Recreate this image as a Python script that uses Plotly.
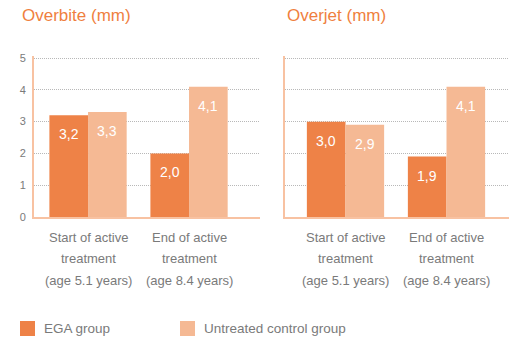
import plotly.graph_objects as go

category_lines = [["Start of active", "treatment", "(age 5.1 years)"], ["End of active", "treatment", "(age 8.4 years)"]]
panel_titles = ["Overbite (mm)", "Overjet (mm)"]
series_names = ["EGA group", "Untreated control group"]
overbite_ega = [3.2, 2.0]
overbite_control = [3.3, 4.1]
overjet_ega = [3.0, 1.9]
overjet_control = [2.9, 4.1]
y_ticks = [0, 1, 2, 3, 4, 5]

C_EGA = "#EE8247"
C_CTRL = "#F5B994"
AXIS_C = "#F8C2A2"
GRAY = "#7a7a7a"
FONT = "Liberation Sans"

W, H = 514, 358
bargap = 0.235
fig = go.Figure()

panels = [
    (overbite_ega, overbite_control, "x", "y", [34, 260], -0.535),
    (overjet_ega, overjet_control, "x2", "y2", [285, 509], -0.599),
]
xpos = list(range(len(category_lines)))
bw = (1 - bargap) / 2
ann = []
for (ega, ctrl, xa, ya, px, x0) in panels:
    for vals, color, name, off in [(ega, C_EGA, series_names[0], -bw / 2), (ctrl, C_CTRL, series_names[1], bw / 2)]:
        fig.add_trace(go.Bar(x=xpos, y=vals, marker=dict(color=color, line=dict(width=0)),
                             name=name, xaxis=xa, yaxis=ya, showlegend=False, hoverinfo="skip"))
        for xi, v in zip(xpos, vals):
            ann.append(dict(x=xi + off, y=v, xref=xa, yref=ya, text=f"{v:.1f}".replace(".", ","),
                            showarrow=False, yanchor="middle", yshift=-19,
                            font=dict(color="white", size=14, family=FONT)))
    for xi, lines in zip(xpos, category_lines):
        for k, line in enumerate(lines):
            ann.append(dict(x=xi, y=(H - (237 + 21.5 * k)) / H, xref=xa, yref="paper", text=line,
                            showarrow=False, yanchor="middle", xanchor="center",
                            font=dict(color=GRAY, size=13, family=FONT)))

ydom = [(H - 217) / H, (H - 55.5) / H]
common_y = dict(range=[0, 5.08], showgrid=True, gridcolor="#b8b8b8", griddash="1px,1px", gridwidth=1,
                tickvals=y_ticks, showline=True, linecolor=AXIS_C, linewidth=2, zeroline=False,
                tickfont=dict(color=GRAY, size=11, family=FONT), domain=ydom, ticks="",
                ticklabelstandoff=4, automargin=False, fixedrange=True)
layout = dict(
    template="none",
    width=W, height=H, margin=dict(l=0, r=0, t=0, b=0, pad=0),
    plot_bgcolor="white", paper_bgcolor="white", barmode="group", bargap=bargap, bargroupgap=0,
    showlegend=False, hovermode=False,
)
for i, (ega, ctrl, xa, ya, px, x0) in enumerate(panels):
    xk = "xaxis" if i == 0 else "xaxis2"
    yk = "yaxis" if i == 0 else "yaxis2"
    rng_end = x0 + (px[1] - px[0]) / 101
    layout[xk] = dict(domain=[px[0] / W, px[1] / W], range=[x0, rng_end], tickvals=xpos,
                      showticklabels=False, automargin=False, fixedrange=True,
                      showline=True, linecolor=AXIS_C, linewidth=2, showgrid=False, zeroline=False,
                      anchor=ya, ticks="")
    yd = dict(common_y)
    yd["anchor"] = xa
    if i == 1:
        yd["showticklabels"] = False
    layout[yk] = yd
    ann.append(dict(x=(20 if i == 0 else 285) / W, y=(H - 15) / H, xref="paper", yref="paper",
                    text=panel_titles[i], showarrow=False, xanchor="left", yanchor="middle",
                    font=dict(color="#EF7F3F", size=17, family=FONT)))

fig.update_layout(**layout)

# legend drawn as swatches and text
shapes = []
for (sx, color, name) in [(20, C_EGA, series_names[0]), (180, C_CTRL, series_names[1])]:
    shapes.append(dict(type="rect", xref="paper", yref="paper", x0=sx / W, x1=(sx + 15) / W,
                       y0=(H - 336) / H, y1=(H - 321) / H, fillcolor=color, line=dict(width=0)))
    ann.append(dict(x=(sx + 22) / W, y=(H - 328.5) / H, xref="paper", yref="paper", text=name,
                    showarrow=False, xanchor="left", yanchor="middle",
                    font=dict(color=GRAY, size=13.5, family=FONT)))
fig.update_layout(shapes=shapes, annotations=ann)
fig.write_html("out.html", config={"displayModeBar": False, "staticPlot": True},
               post_script="document.body.style.margin='0';document.body.style.overflow='hidden';")
